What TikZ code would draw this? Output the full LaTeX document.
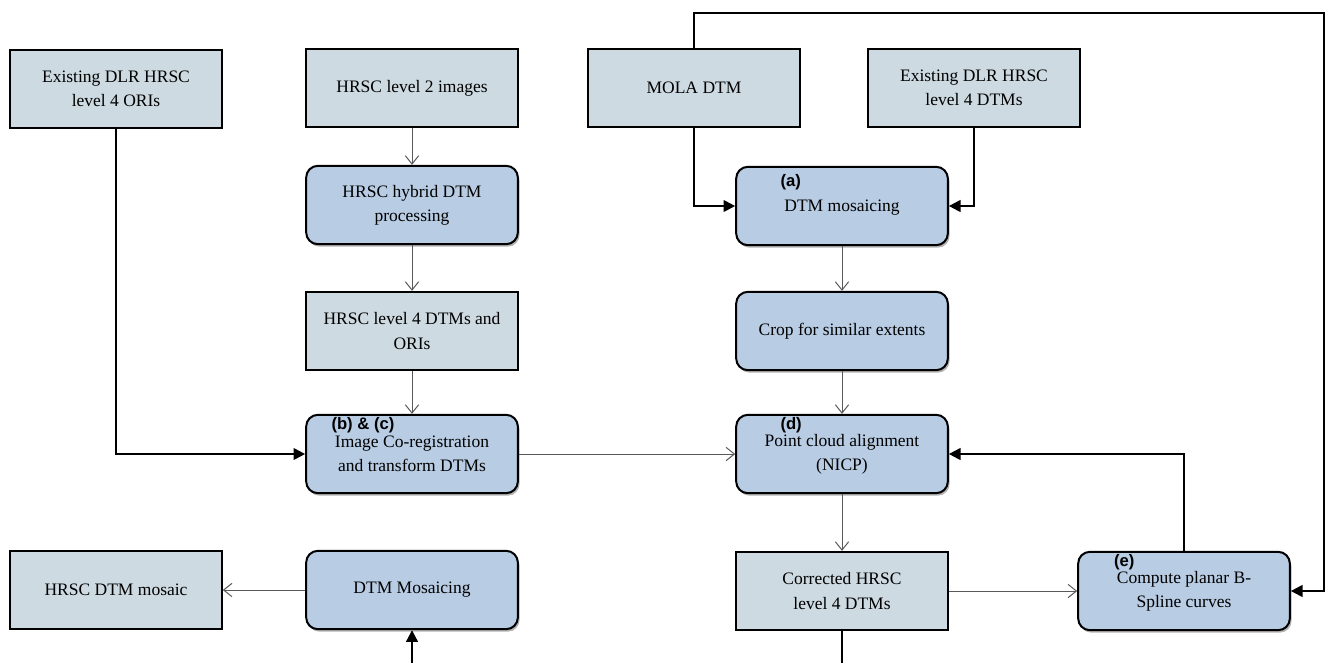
\documentclass[tikz,border=0pt]{standalone}
\usepackage{fontspec}
\setmainfont{Liberation Serif}
\newfontfamily\tagfont{Liberation Sans}
\usetikzlibrary{arrows.meta,shadows}
\definecolor{datagray}{HTML}{CDDAE1}
\definecolor{procblue}{HTML}{B8CCE4}
\tikzstyle{databox} = [draw=black, fill=datagray, line width=1.2pt, rectangle,
    minimum width=127pt, minimum height=47pt, align=center, inner sep=2pt,
    font=\fontsize{10.5}{14.5}\selectfont]
\tikzstyle{procbox} = [databox, fill=procblue, rounded corners=7pt,
    drop shadow={opacity=0.3, shadow xshift=1pt, shadow yshift=-1.5pt, fill=black}]
\tikzstyle{tag} = [font=\tagfont\bfseries\fontsize{10}{12}\selectfont,
    inner sep=0pt, anchor=west]
\tikzstyle{flow} = [draw=black!65, line width=0.6pt, -{Straight Barb[length=5pt,width=8pt]}]
\tikzstyle{link} = [draw=black, line width=1.2pt, -{Triangle[length=7pt,width=7pt]}]

\begin{document}
\begin{tikzpicture}[x=0.6pt, y=-0.6pt]
\useasboundingbox (0,0) rectangle (1328,663);

\node[databox] (oris) at (116,89) {Existing DLR HRSC\\level 4 ORIs};
\node[databox] (lvltwo) at (412,88) {HRSC level 2 images};
\node[procbox] (hybrid) at (412,205) {HRSC hybrid DTM\\processing};
\node[databox] (lvlfour) at (412,331) {HRSC level 4 DTMs and\\ORIs};
\node[procbox] (coreg) at (412,454) {Image Co-registration\\and transform DTMs};
\node[procbox] (hmosaic) at (412,590) {DTM Mosaicing};
\node[databox] (result) at (116,590) {HRSC DTM mosaic};
\node[databox] (mola) at (694,88) {MOLA DTM};
\node[databox] (dlrdtm) at (974,88) {Existing DLR HRSC\\level 4 DTMs};
\node[procbox, text depth=-3pt] (mosaic) at (842,206) {DTM mosaicing};
\node[procbox] (crop) at (842,331) {Crop for similar extents};
\node[procbox] (nicp) at (842,454) {Point cloud alignment\\(NICP)};
\node[databox] (corrected) at (842,591) {Corrected HRSC\\level 4 DTMs};
\node[procbox] (spline) at (1184,591) {Compute planar B-\\Spline curves};

% step labels
\node[tag] (tag-a) at ([xshift=27pt,yshift=-9.6pt]mosaic.north west) {(a)};
\node[tag] (tag-bc) at ([xshift=15.6pt,yshift=-6.6pt]coreg.north west) {(b) \& (c)};
\node[tag] (tag-d) at ([xshift=27pt,yshift=-6.6pt]nicp.north west) {(d)};
\node[tag] (tag-e) at ([xshift=22pt,yshift=-6.6pt]spline.north west) {(e)};

\coordinate (loop) at (1324,13);
\coordinate (botleft) at (412,663);
\coordinate (botright) at (842,663);

\draw[flow] (lvltwo) -- (hybrid);
\draw[flow] (hybrid) -- (lvlfour);
\draw[flow] (lvlfour) -- (coreg);
\draw[flow] (coreg) -- (nicp);
\draw[flow] (mosaic) -- (crop);
\draw[flow] (crop) -- (nicp);
\draw[flow] (nicp) -- (corrected);
\draw[flow] (corrected) -- (spline);
\draw[flow] (hmosaic) -- (result);

\draw[link] (oris.south) |- (coreg.west);
\draw[link] (mola.south) |- (mosaic.west);
\draw[link] (dlrdtm.south) |- (mosaic.east);
\draw[link] (spline.north) |- (nicp.east);
\draw[link] (mola.north) |- (loop) |- (spline.east);
\draw[link] (botleft) -- (hmosaic.south);
\draw[line width=1.2pt] (corrected.south) -- (botright);
\end{tikzpicture}
\end{document}
